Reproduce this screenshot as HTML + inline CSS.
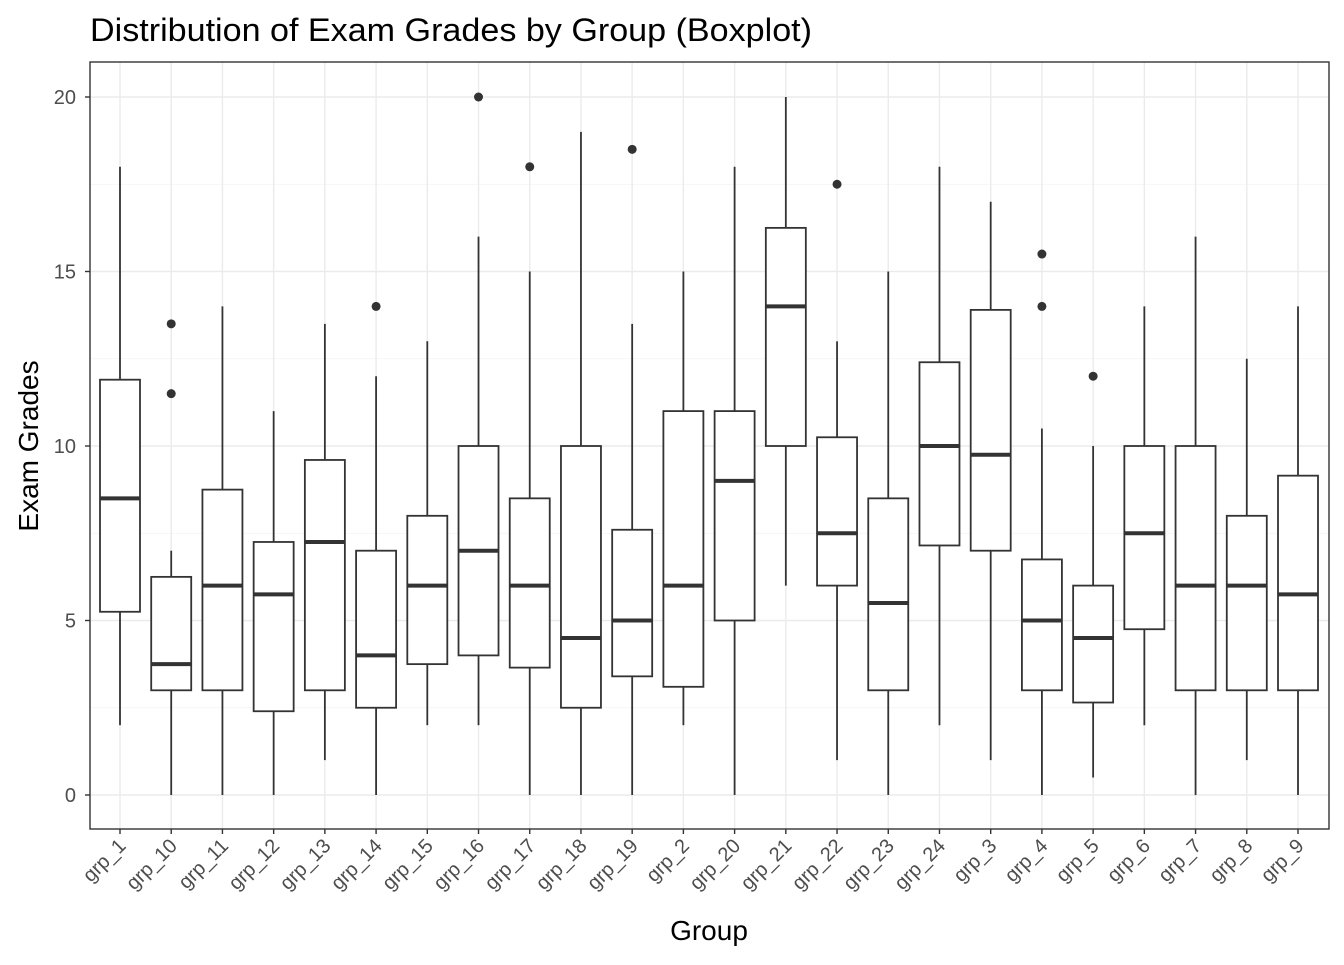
<!DOCTYPE html>
<html><head><meta charset="utf-8"><style>
body{margin:0;background:#fff;}
svg text{font-family:"Liberation Sans",Arial,sans-serif;}
</style></head><body>
<svg id="chart" width="1344" height="960" xmlns="http://www.w3.org/2000/svg">
<rect width="1344" height="960" fill="#fff"/>
<text x="90" y="41" font-size="32" textLength="722" lengthAdjust="spacingAndGlyphs" fill="#000">Distribution of Exam Grades by Group (Boxplot)</text>
<g id="grid"></g>
<g id="boxes"></g>
<rect x="90" y="62" width="1239" height="767" fill="none" stroke="#333" stroke-width="1.4"/>
<g id="axes"></g>
<text x="709" y="940" font-size="28" text-anchor="middle" fill="#000">Group</text>
<text transform="translate(38,446) rotate(-90)" font-size="28" text-anchor="middle" fill="#000">Exam Grades</text>
</svg>
<script>
const categories=["grp_1","grp_10","grp_11","grp_12","grp_13","grp_14","grp_15","grp_16","grp_17","grp_18","grp_19","grp_2","grp_20","grp_21","grp_22","grp_23","grp_24","grp_3","grp_4","grp_5","grp_6","grp_7","grp_8","grp_9"];
const whiskerLow=[2,0,0,0,1,0,2,2,0,0,0,2,0,6,1,0,2,1,0,0.5,2,0,1,0];
const q1=[5.25,3,3,2.4,3,2.5,3.75,4,3.65,2.5,3.4,3.1,5,10,6,3,7.15,7,3,2.65,4.75,3,3,3];
const median=[8.5,3.75,6,5.75,7.25,4,6,7,6,4.5,5,6,9,14,7.5,5.5,10,9.75,5,4.5,7.5,6,6,5.75];
const q3=[11.9,6.25,8.75,7.25,9.6,7,8,10,8.5,10,7.6,11,11,16.25,10.25,8.5,12.4,13.9,6.75,6,10,10,8,9.15];
const whiskerHigh=[18,7,14,11,13.5,12,13,16,15,19,13.5,15,18,20,13,15,18,17,10.5,10,14,16,12.5,14];
const outliers=[[],[11.5,13.5],[],[],[],[14],[],[20],[18],[],[18.5],[],[],[],[17.5],[],[],[],[14,15.5],[12],[],[],[],[]];
const yTicks=[0,5,10,15,20];
const yMinor=[2.5,7.5,12.5,17.5];
const NS="http://www.w3.org/2000/svg";
const y=v=>795-v*34.9;
const x=i=>120+i*(1298-120)/23;
function mk(tag,attrs,parent){const e=document.createElementNS(NS,tag);for(const k in attrs)e.setAttribute(k,attrs[k]);parent.appendChild(e);return e;}
const grid=document.getElementById('grid'),boxes=document.getElementById('boxes'),axes=document.getElementById('axes');
yMinor.forEach(v=>{const l=mk('line',{x1:90,x2:1329,y1:y(v),y2:y(v),stroke:'#f2f2f2','stroke-width':0.8},grid);
});
yTicks.forEach(v=>{const l=mk('line',{x1:90,x2:1329,y1:y(v),y2:y(v),stroke:'#ebebeb','stroke-width':1.4},grid);

const t=mk('line',{x1:85,x2:90,y1:y(v),y2:y(v),stroke:'#333','stroke-width':1.4},axes);

const tx=mk('text',{x:76,y:y(v)+7,'font-size':20,'text-anchor':'end',fill:'#4d4d4d'},axes);tx.textContent=v;
});
categories.forEach((c,i)=>{const cx=x(i);
const g=mk('line',{x1:cx,x2:cx,y1:62,y2:829,stroke:'#ebebeb','stroke-width':1.4},grid);

const grp=mk('g',{},boxes);

mk('line',{x1:cx,x2:cx,y1:y(whiskerLow[i]),y2:y(q1[i]),stroke:'#333','stroke-width':1.8},grp);
mk('line',{x1:cx,x2:cx,y1:y(q3[i]),y2:y(whiskerHigh[i]),stroke:'#333','stroke-width':1.8},grp);
mk('rect',{x:cx-20,y:y(q3[i]),width:40,height:y(q1[i])-y(q3[i]),fill:'#fff',stroke:'#333','stroke-width':1.8},grp);
mk('line',{x1:cx-20,x2:cx+20,y1:y(median[i]),y2:y(median[i]),stroke:'#333','stroke-width':4},grp);
outliers[i].forEach(o=>{const p=mk('circle',{cx:cx,cy:y(o),r:4.5,fill:'#333'},grp);
});
const t=mk('line',{x1:cx,x2:cx,y1:829,y2:834,stroke:'#333','stroke-width':1.4},axes);

const tx=mk('text',{transform:`translate(${cx+7},${847}) rotate(-45)`,'font-size':20,'text-anchor':'end',fill:'#4d4d4d'},axes);tx.textContent=c;
});
</script>
</body></html>
